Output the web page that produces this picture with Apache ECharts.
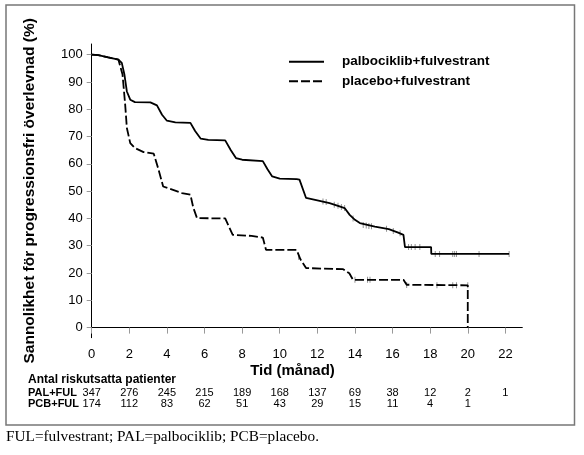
<!DOCTYPE html>
<html>
<head>
<meta charset="utf-8">
<script src="https://cdn.jsdelivr.net/npm/echarts@6/dist/echarts.min.js"></script>
<style>
html, body { margin: 0; padding: 0; background: #fff; }
#chart { width: 584px; height: 455px; }
</style>
</head>
<body>
<div id="chart"></div>
<script>
// x ticks (months) and at-risk counts under each tick
var monthTicks = [0, 2, 4, 6, 8, 10, 12, 14, 16, 18, 20, 22];
var pctTicks = [0, 10, 20, 30, 40, 50, 60, 70, 80, 90, 100];
var palRisk = [347, 276, 245, 215, 189, 168, 137, 69, 38, 12, 2, 1];
var pcbRisk = [174, 112, 83, 62, 51, 43, 29, 15, 11, 4, 1, ''];

// palbociklib+fulvestrant curve
var palTime = [0, 0.35, 0.88, 1.42, 1.6, 1.74, 1.87, 2.05, 2.3, 3.12, 3.47, 3.74, 4.0, 4.45, 5.25, 5.5, 5.8, 6.2,
    7.1, 7.4, 7.67, 8.0, 9.1, 9.35, 9.6, 10.0, 10.9, 11.05, 11.4, 12.0, 12.65, 13.1, 13.45, 13.72, 14.0, 14.26,
    15.06, 15.8, 16.3, 16.58, 16.66, 18.05, 18.06, 22.2];
var palSurv = [100, 99.8, 99.0, 98.2, 97, 92.7, 86.5, 83.5, 82.6, 82.5, 81.4, 78, 75.8, 75.2, 75.0, 72, 69.2, 68.8,
    68.6, 65, 62.1, 61.5, 61.0, 58, 55.4, 54.6, 54.4, 54.2, 47.5, 46.6, 45.6, 44.6, 43.8, 41.3, 39.5, 38.3,
    37.0, 36.1, 34.8, 34.0, 29.5, 29.5, 27.0, 27.0];

// placebo+fulvestrant curve
var pcbTime = [0, 0.35, 0.88, 1.42, 1.64, 1.78, 1.87, 2.05, 2.3, 2.76, 3.3, 3.55, 3.8, 3.9, 4.8, 5.25, 5.4, 5.6,
    7.1, 7.3, 7.5, 8.5, 9.1, 9.27, 10.9, 11.1, 11.4, 13.37, 13.7, 13.9, 16.58, 16.75, 20.0, 20.0];
var pcbSurv = [100, 99.8, 99.0, 98.2, 92.7, 81.7, 73.1, 67.6, 65.8, 64.3, 63.7, 58, 51.7, 51.1, 49.3, 48.7, 44, 40.1,
    40.0, 37, 34, 33.6, 33, 28.5, 28.5, 25, 21.8, 21.4, 19.9, 17.5, 17.5, 15.7, 15.5, 0];

// censoring marks [month, %]
var palCens = [[12.3, 46.2], [12.47, 46.0], [12.9, 45.0], [13.1, 44.6], [13.28, 44.2], [13.45, 43.8], [13.9, 40.0],
    [14.44, 37.6], [14.6, 37.4], [14.74, 37.2], [14.88, 37.1], [15.68, 36.2], [16.04, 35.4], [16.4, 34.6],
    [16.85, 29.5], [17.0, 29.5], [17.2, 29.5], [17.45, 29.5], [18.27, 27], [18.5, 27], [19.2, 27], [19.3, 27],
    [19.4, 27], [20.6, 27], [22.2, 27]];
var pcbCens = [[11.0, 26], [14.0, 17.5], [14.67, 17.5], [14.8, 17.5], [16.75, 15.6], [18.36, 15.5], [19.2, 15.5],
    [19.4, 15.5], [20.0, 15.5]];

var font = 'Liberation Sans, Arial, sans-serif';

function zip(a, b) {
    var out = [];
    for (var i = 0; i < a.length; i++) out.push([a[i], b[i]]);
    return out;
}

var myChart = echarts.init(document.getElementById('chart'));
var option = {
    animation: false,
    backgroundColor: '#fff',
    textStyle: { fontFamily: font, color: '#000' },
    grid: { left: 91.7, right: 61.7, top: 44, bottom: 117.3 },
    legend: {
        orient: 'vertical',
        left: 283,
        top: 49.7,
        itemWidth: 35,
        itemHeight: 14,
        itemGap: 5.5,
        data: ['palbociklib+fulvestrant', 'placebo+fulvestrant'],
        itemStyle: { color: 'transparent', borderWidth: 0, opacity: 0 },
        textStyle: { fontFamily: font, fontSize: 13.5, fontWeight: 'bold', color: '#000', padding: [0, 0, 4, 13] }
    },
    xAxis: [
        {
            type: 'value', min: 0, max: 22.9,
            splitLine: { show: false },
            axisLine: { lineStyle: { color: '#000', width: 1 } },
            axisTick: { customValues: monthTicks, length: 6, lineStyle: { color: '#999' } },
            axisLabel: { customValues: monthTicks, margin: 10, fontSize: 13, color: '#000', fontFamily: font }
        },
        {
            type: 'value', min: 0, max: 22.9, position: 'bottom', offset: 50,
            splitLine: { show: false }, axisLine: { show: false }, axisTick: { show: false },
            axisLabel: {
                customValues: monthTicks, margin: 0, fontSize: 11, fontFamily: font,
                color: function (v) { return v === 22 ? '#8b1a1a' : '#000'; },
                formatter: function (v) { return palRisk[Math.round(v / 2)]; }
            }
        },
        {
            type: 'value', min: 0, max: 22.9, position: 'bottom', offset: 60.5,
            splitLine: { show: false }, axisLine: { show: false }, axisTick: { show: false },
            axisLabel: {
                customValues: monthTicks, margin: 0, fontSize: 11, fontFamily: font, color: '#000',
                formatter: function (v) { return pcbRisk[Math.round(v / 2)]; }
            }
        }
    ],
    yAxis: {
        type: 'value', min: -3.7, max: 103.9,
        name: 'Sannolikhet för progressionsfri överlevnad (%)',
        nameLocation: 'middle',
        nameGap: 54,
        nameTextStyle: { fontFamily: font, fontSize: 15.5, fontWeight: 'bold', color: '#000' },
        splitLine: { show: false },
        axisLine: { show: true, lineStyle: { color: '#000', width: 1 } },
        axisTick: { show: true, customValues: pctTicks, length: 5, lineStyle: { color: '#999' } },
        axisLabel: { customValues: pctTicks, margin: 9, fontSize: 13, color: '#000', fontFamily: font }
    },
    series: [
        {
            name: 'palbociklib+fulvestrant',
            type: 'line',
            xAxisIndex: 0,
            data: zip(palTime, palSurv),
            symbol: 'none',
            lineStyle: { color: '#000', width: 1.8 },
            itemStyle: { color: '#000' }
        },
        {
            name: 'placebo+fulvestrant',
            type: 'line',
            xAxisIndex: 0,
            data: zip(pcbTime, pcbSurv),
            symbol: 'none',
            lineStyle: { color: '#000', width: 1.8, type: [9, 3] },
            itemStyle: { color: '#000' }
        },
        {
            name: 'pal-cens',
            type: 'scatter',
            xAxisIndex: 0,
            data: palCens,
            symbol: 'rect',
            symbolSize: [1, 6],
            itemStyle: { color: '#777' }
        },
        {
            name: 'pcb-cens',
            type: 'scatter',
            xAxisIndex: 0,
            data: pcbCens,
            symbol: 'rect',
            symbolSize: [1, 6],
            itemStyle: { color: '#777' }
        }
    ],
    graphic: [
        {
            type: 'rect', silent: true,
            shape: { x: 6, y: 5, width: 568.5, height: 420 },
            style: { fill: 'none', stroke: '#777', lineWidth: 1.5 }
        },
        {
            type: 'text', x: 292.5, y: 371,
            style: { text: 'Tid (månad)', font: 'bold 15px ' + font, fill: '#000', textAlign: 'center', textVerticalAlign: 'middle' }
        },
        {
            type: 'text', x: 28, y: 380,
            style: { text: 'Antal riskutsatta patienter', font: 'bold 12px ' + font, fill: '#000', textVerticalAlign: 'middle' }
        },
        {
            type: 'text', x: 28, y: 393.3,
            style: { text: 'PAL+FUL', font: 'bold 11px ' + font, fill: '#000', textVerticalAlign: 'middle' }
        },
        {
            type: 'text', x: 28, y: 404,
            style: { text: 'PCB+FUL', font: 'bold 11px ' + font, fill: '#000', textVerticalAlign: 'middle' }
        },
        {
            type: 'text', x: 6, y: 437,
            style: { text: 'FUL=fulvestrant; PAL=palbociklib; PCB=placebo.', font: '15.3px Liberation Serif, Times New Roman, serif', fill: '#000', textVerticalAlign: 'middle' }
        }
    ]
};
myChart.setOption(option);
</script>
</body>
</html>
